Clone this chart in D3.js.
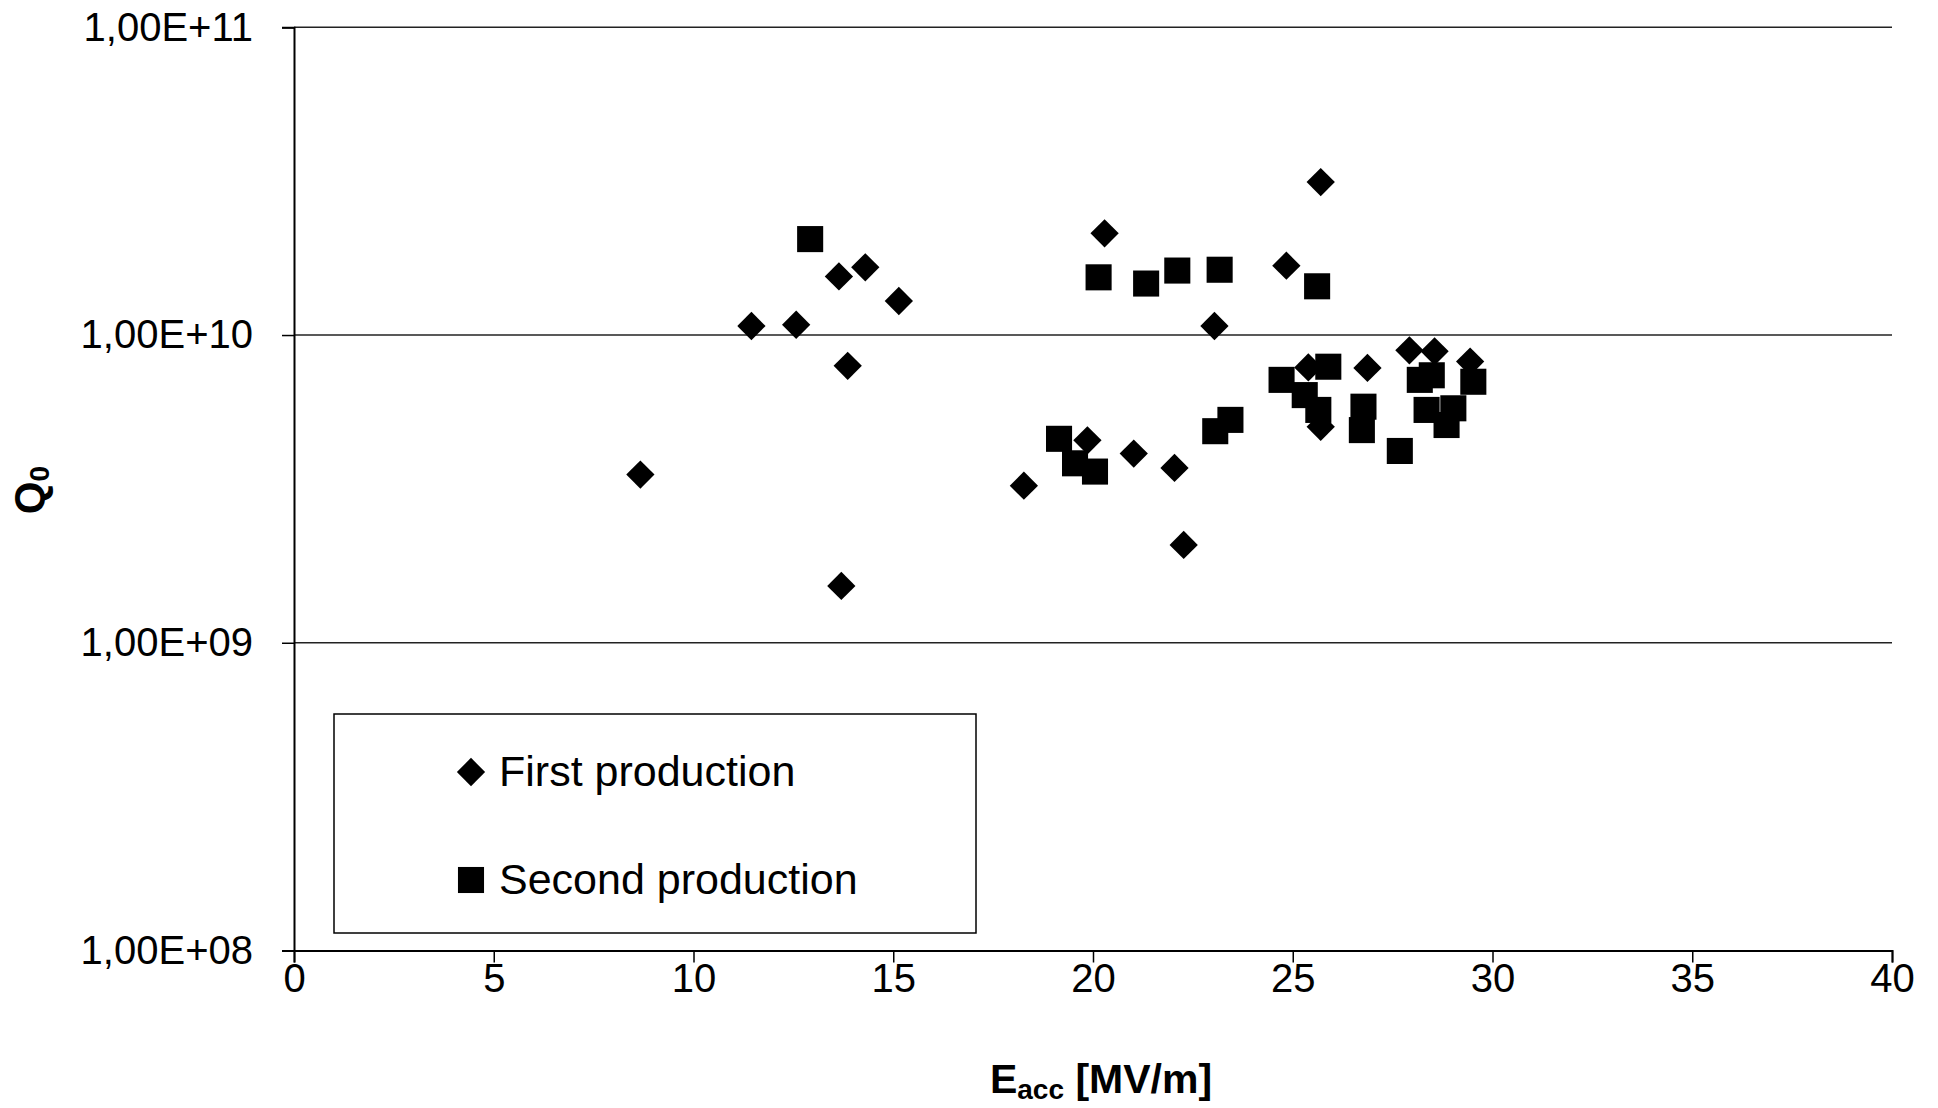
<html>
<head>
    <style>
        body { margin: 0; background: #fff; }
        text { font-family: "Liberation Sans", Arial, sans-serif; fill: #000; }
    </style>
    <script src="https://d3js.org/d3.v7.min.js"></script>
</head>
<body>
    <svg width=1938 height=1108></svg>
</body>
<script>

    // E_acc [MV/m] and Q0, one pair of arrays per production run
    const firstE = [8.67, 11.45, 12.57, 13.64, 14.30, 15.14, 13.86, 13.70, 18.27, 19.86, 20.29, 21.02,
                    22.04, 22.27, 23.04, 24.84, 25.70, 25.39, 25.70, 26.87, 27.92, 28.55, 29.44];
    const firstQ = [3.52e9, 1.07e10, 1.08e10, 1.55e10, 1.66e10, 1.29e10, 7.94e9, 1.53e9, 3.24e9, 4.55e9, 2.14e10, 4.12e9,
                    3.7e9, 2.08e9, 1.07e10, 1.68e10, 3.14e10, 7.85e9, 5.03e9, 7.82e9, 8.92e9, 8.85e9, 8.2e9];

    const secondE = [12.92, 19.15, 19.55, 20.05, 20.14, 21.33, 22.11, 23.17, 23.06, 23.44, 24.72, 25.61,
                     25.89, 25.30, 25.64, 26.77, 26.73, 27.68, 28.18, 28.48, 28.35, 28.85, 29.02, 29.52];
    const secondQ = [2.05e10, 4.6e9, 3.83e9, 3.6e9, 1.54e10, 1.47e10, 1.62e10, 1.63e10, 4.87e9, 5.3e9, 7.15e9, 1.44e10,
                     7.89e9, 6.38e9, 5.71e9, 5.85e9, 4.91e9, 4.2e9, 7.15e9, 7.4e9, 5.71e9, 5.1e9, 5.78e9, 7.05e9];

    const xTicks = [0, 5, 10, 15, 20, 25, 30, 35, 40];
    const yTicks = [1e8, 1e9, 1e10, 1e11];
    const yTickLabels = ["1,00E+08", "1,00E+09", "1,00E+10", "1,00E+11"];
    const seriesNames = ["First production", "Second production"];

    const svg = d3.select("svg");

    let x = d3.scaleLinear()
        .domain([0, 40])
        .range([294, 1892]);

    let y = d3.scaleLog()
        .domain([1e8, 1e11])
        .range([950.5, 27.3]);

    // gridlines
    svg.append("g")
        .selectAll("line")
        .data(yTicks.slice(1))
        .join("line")
            .attr("x1", x(0))
            .attr("x2", x(40))
            .attr("y1", d => y(d))
            .attr("y2", d => y(d))
            .attr("stroke", "#222")
            .attr("stroke-width", 1.5);

    // y axis
    let yAxis = d3.axisLeft(y)
        .tickValues(yTicks)
        .tickFormat((d, i) => yTickLabels[i])
        .tickSize(12)
        .tickPadding(29);

    svg.append("g")
        .attr("transform", `translate(${x(0)},0)`)
        .call(yAxis)
        .call(g => g.select(".domain").attr("stroke", "#000").attr("stroke-width", 2))
        .call(g => g.selectAll(".tick line").attr("stroke", "#000").attr("stroke-width", 1.5))
        .call(g => g.selectAll(".tick text")
            .attr("font-size", 40)
            .attr("font-family", "Liberation Sans, Arial, sans-serif")
            .attr("fill", "#000"));

    // x axis
    let xAxis = d3.axisBottom(x)
        .tickValues(xTicks)
        .tickSize(12)
        .tickPadding(1);

    svg.append("g")
        .attr("transform", `translate(0,${y(1e8)})`)
        .call(xAxis)
        .call(g => g.select(".domain").attr("stroke", "#000").attr("stroke-width", 2))
        .call(g => g.selectAll(".tick line").attr("stroke", "#000").attr("stroke-width", 1.5))
        .call(g => g.selectAll(".tick text")
            .attr("font-size", 40)
            .attr("font-family", "Liberation Sans, Arial, sans-serif")
            .attr("fill", "#000"));

    // markers: diamonds first, squares drawn on top like the original
    const diamond = d3.symbol().type(d3.symbolSquare).size(400);
    const square = d3.symbol().type(d3.symbolSquare).size(680);

    svg.append("g")
        .selectAll("path")
        .data(firstE.map((e, i) => [e, firstQ[i]]))
        .join("path")
            .attr("d", diamond)
            .attr("transform", d => `translate(${x(d[0])},${y(d[1])}) rotate(45)`)
            .attr("fill", "#000");

    svg.append("g")
        .selectAll("path")
        .data(secondE.map((e, i) => [e, secondQ[i]]))
        .join("path")
            .attr("d", square)
            .attr("transform", d => `translate(${x(d[0])},${y(d[1])})`)
            .attr("fill", "#000");

    // legend
    const legend = svg.append("g");
    legend.append("rect")
        .attr("x", 334)
        .attr("y", 714)
        .attr("width", 642)
        .attr("height", 219)
        .attr("fill", "#fff")
        .attr("stroke", "#000")
        .attr("stroke-width", 1.5);

    const items = legend.selectAll("g.item")
        .data(seriesNames)
        .join("g")
            .attr("class", "item")
            .attr("transform", (d, i) => `translate(471,${772 + i * 108})`);

    items.append("path")
        .attr("d", (d, i) => i === 0 ? diamond() : square())
        .attr("transform", (d, i) => i === 0 ? "rotate(45)" : "")
        .attr("fill", "#000");

    items.append("text")
        .attr("x", 28)
        .attr("y", 14)
        .attr("font-size", 43)
        .text(d => d);

    // axis titles
    const xTitle = svg.append("text")
        .attr("x", 1101)
        .attr("y", 1093)
        .attr("text-anchor", "middle")
        .attr("font-size", 41)
        .attr("font-weight", "bold");
    xTitle.append("tspan").text("E");
    xTitle.append("tspan").attr("font-size", 28).attr("dy", 6).text("acc");
    xTitle.append("tspan").attr("dy", -6).text(" [MV/m]");

    const yTitle = svg.append("text")
        .attr("transform", "translate(44,490) rotate(-90)")
        .attr("text-anchor", "middle")
        .attr("font-size", 42)
        .attr("font-weight", "bold");
    yTitle.append("tspan").text("Q");
    yTitle.append("tspan").attr("font-size", 28).attr("dy", 5).text("0");

</script>
</html>
